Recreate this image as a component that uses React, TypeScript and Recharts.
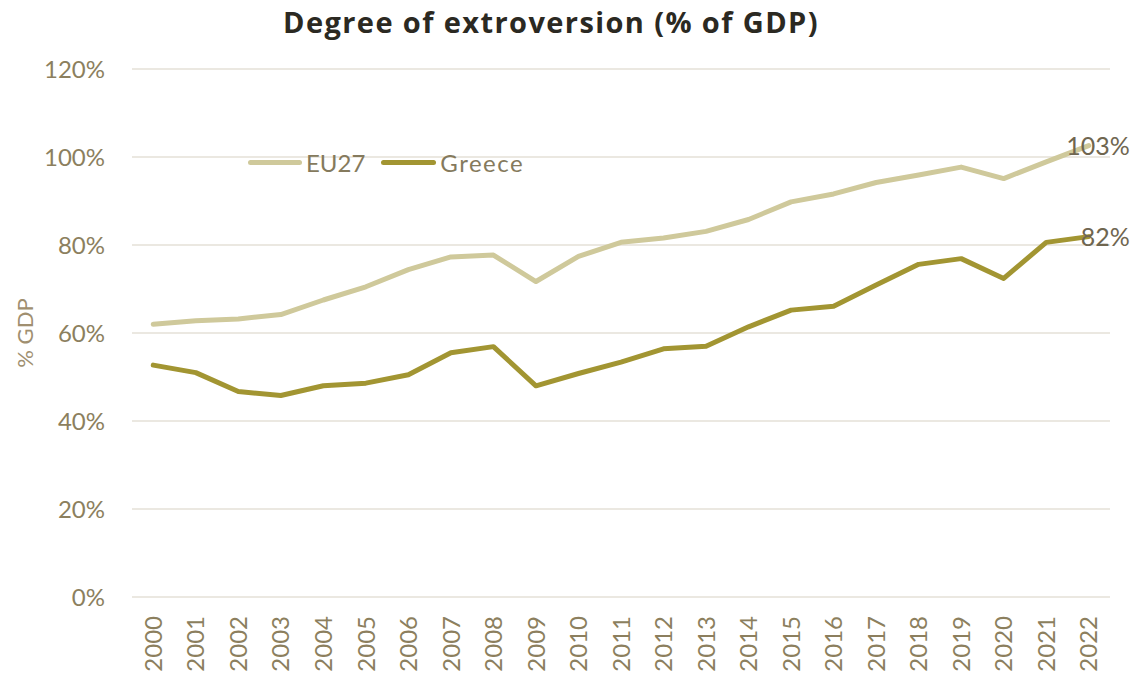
import React from 'react';
import { LineChart, Line, XAxis, YAxis, CartesianGrid, Legend } from 'recharts';

const years = [
  '2000', '2001', '2002', '2003', '2004', '2005', '2006', '2007', '2008', '2009', '2010', '2011',
  '2012', '2013', '2014', '2015', '2016', '2017', '2018', '2019', '2020', '2021', '2022',
];
const eu27 = [
  62.0, 62.8, 63.2, 64.2, 67.5, 70.5, 74.4, 77.3, 77.7, 71.7, 77.4, 80.6,
  81.6, 83.1, 85.8, 89.8, 91.6, 94.2, 95.9, 97.7, 95.1, 98.9, 102.6,
];
const greece = [
  52.7, 51.0, 46.7, 45.8, 48.0, 48.6, 50.5, 55.5, 56.9, 48.0, 50.8, 53.4,
  56.4, 57.0, 61.4, 65.2, 66.1, 70.9, 75.6, 76.9, 72.4, 80.6, 81.9,
];
const yTicks = [0, 20, 40, 60, 80, 100, 120];

const data = years.map((year, i) => ({ year, eu27: eu27[i], greece: greece[i] }));

const FONT = 'Lato, "Open Sans", sans-serif';
const TICK_COLOR = '#8c7f5e';
const EU_COLOR = '#cfc99b';
const GR_COLOR = '#a29532';

const XTick = (props: any) => {
  const { x, y, payload } = props;
  return (
    <g transform={`translate(${x},${y + 19})`}>
      <text
        transform="rotate(-90)"
        textAnchor="end"
        dy="0.36em"
        fill={TICK_COLOR}
        fontSize={24}
        fontFamily={FONT}
      >
        {payload.value}
      </text>
    </g>
  );
};

const endLabel = (props: any) => {
  const { x, y, index, value } = props;
  if (index !== years.length - 1) return null;
  return (
    <text
      x={x + 41}
      y={y}
      dy="0.36em"
      textAnchor="end"
      fill="#6f6650"
      fontSize={25}
      fontFamily={FONT}
    >
      {Math.round(value)}%
    </text>
  );
};

const LegendBox = () => (
  <div style={{ display: 'flex', alignItems: 'center', fontFamily: FONT, fontSize: 24, color: '#857a5d' }}>
    <span style={{ width: 54, height: 5, borderRadius: 3, background: EU_COLOR, marginRight: 4 }} />
    <span style={{ marginRight: 16 }}>EU27</span>
    <span style={{ width: 55, height: 5, borderRadius: 3, background: GR_COLOR, marginRight: 4 }} />
    <span style={{ letterSpacing: 1.5 }}>Greece</span>
  </div>
);

export default function App() {
  return (
    <div style={{ position: 'absolute', left: 0, top: 0, width: 1132, height: 680, background: '#fff' }}>
      <div
        style={{
          position: 'absolute',
          left: 0,
          top: 7,
          width: 1102,
          textAlign: 'center',
          fontFamily: '"Open Sans", sans-serif',
          fontWeight: 700,
          fontSize: 29,
          lineHeight: '29px',
          letterSpacing: 1.4,
          color: '#2b2922',
        }}
      >
        Degree of extroversion (% of GDP)
      </div>
      <LineChart width={1132} height={680} data={data} margin={{ top: 69, right: 22, left: 0, bottom: 0 }}>
        <CartesianGrid vertical={false} stroke="#e4e1d7" strokeWidth={1.5} />
        <XAxis
          dataKey="year"
          scale="band"
          height={83}
          interval={0}
          axisLine={false}
          tickLine={false}
          tickSize={0}
          tickMargin={0}
          tick={<XTick />}
        />
        <YAxis
          width={132}
          domain={[0, 120]}
          ticks={yTicks}
          axisLine={false}
          tickLine={false}
          tickSize={0}
          tickMargin={27}
          tickFormatter={(v: number) => `${v}%`}
          tick={{ fill: TICK_COLOR, fontSize: 24, fontFamily: FONT }}
          label={{
            content: (p: any) => {
              const vb = p.viewBox;
              const cy = vb.y + vb.height / 2;
              return (
                <text
                  x={25}
                  y={cy}
                  transform={`rotate(-90, 25, ${cy})`}
                  textAnchor="middle"
                  dy="0.36em"
                  fill="#a08f70"
                  fontSize={22}
                  fontFamily={FONT}
                >
                  % GDP
                </text>
              );
            },
          }}
        />
        <Legend
          content={<LegendBox />}
          layout="horizontal"
          align="center"
          verticalAlign="middle"
          wrapperStyle={{ position: 'absolute', top: 148, left: 248, width: 'auto' }}
        />
        <Line
          dataKey="eu27"
          name="EU27"
          stroke={EU_COLOR}
          strokeWidth={5}
          dot={false}
          strokeLinejoin="round"
          strokeLinecap="round"
          isAnimationActive={false}
          label={endLabel}
        />
        <Line
          dataKey="greece"
          name="Greece"
          stroke={GR_COLOR}
          strokeWidth={5}
          dot={false}
          strokeLinejoin="round"
          strokeLinecap="round"
          isAnimationActive={false}
          label={endLabel}
        />
      </LineChart>
    </div>
  );
}
